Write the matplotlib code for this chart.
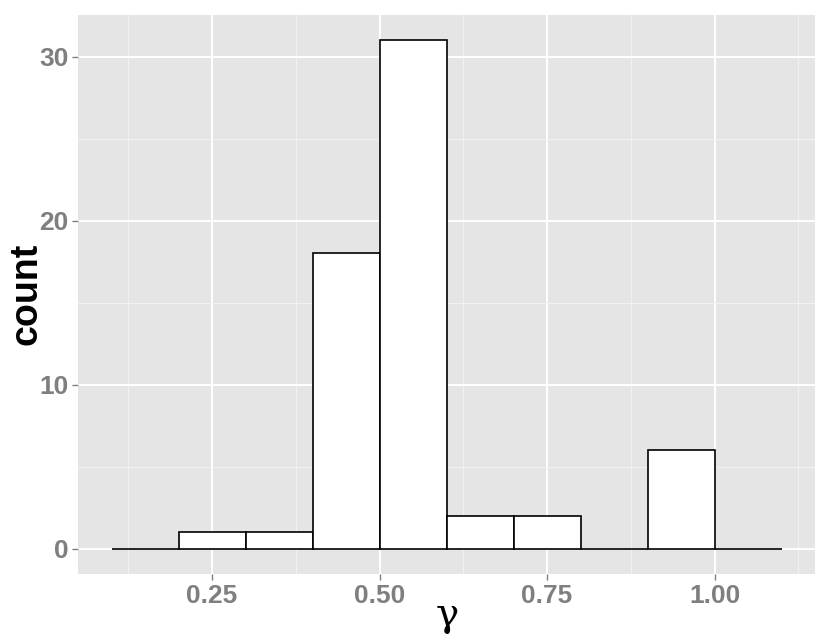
import numpy as np
import matplotlib.pyplot as plt

# histogram of gamma, binwidth 0.1
bin_left = [0.1, 0.2, 0.3, 0.4, 0.5, 0.6, 0.7, 0.8, 0.9, 1.0]
counts = [0, 1, 1, 18, 31, 2, 2, 0, 6, 0]
bin_width = 0.1

x_ticks = [0.25, 0.50, 0.75, 1.00]
x_labels = ["0.25", "0.50", "0.75", "1.00"]
y_ticks = [0, 10, 20, 30]

plt.rcParams['font.family'] = ['Liberation Sans', 'DejaVu Sans']

fig = plt.figure(figsize=(8.3, 6.42), dpi=100)
ax = fig.add_axes([0.094, 0.106, 0.888, 0.871])
ax.set_facecolor("#e5e5e5")

ax.bar(bin_left, counts, width=bin_width, align="edge",
       color="white", edgecolor="black", linewidth=1.2, zorder=3)

ax.set_xlim(0.05, 1.15)
ax.set_ylim(-1.55, 32.55)
ax.set_xticks(x_ticks)
ax.set_xticklabels(x_labels)
ax.set_yticks(y_ticks)
ax.set_xticks([0.125, 0.375, 0.625, 0.875, 1.125], minor=True)
ax.set_yticks([5, 15, 25], minor=True)

ax.grid(which="major", color="white", linewidth=1.4, zorder=1)
ax.grid(which="minor", color="#f2f2f2", linewidth=0.7, zorder=1)
ax.set_axisbelow(True)

for s in ax.spines.values():
    s.set_visible(False)

ax.tick_params(which="major", length=4, color="#7f7f7f", width=1,
               labelsize=19, labelcolor="#7f7f7f", pad=3)
ax.tick_params(which="minor", length=0)
for lab in ax.get_xticklabels() + ax.get_yticklabels():
    lab.set_fontweight("bold")

# axis titles placed on the figure so nothing gets clipped
fig.text(27 / 830, 1 - 294 / 642, "count", fontsize=27, fontweight="bold",
         rotation=90, ha="center", va="center")
fig.text(447 / 830, 1 - 615 / 642, "γ", fontsize=28,
         family=["DejaVu Serif"], ha="center", va="center")

plt.savefig("out.png", dpi=100)
